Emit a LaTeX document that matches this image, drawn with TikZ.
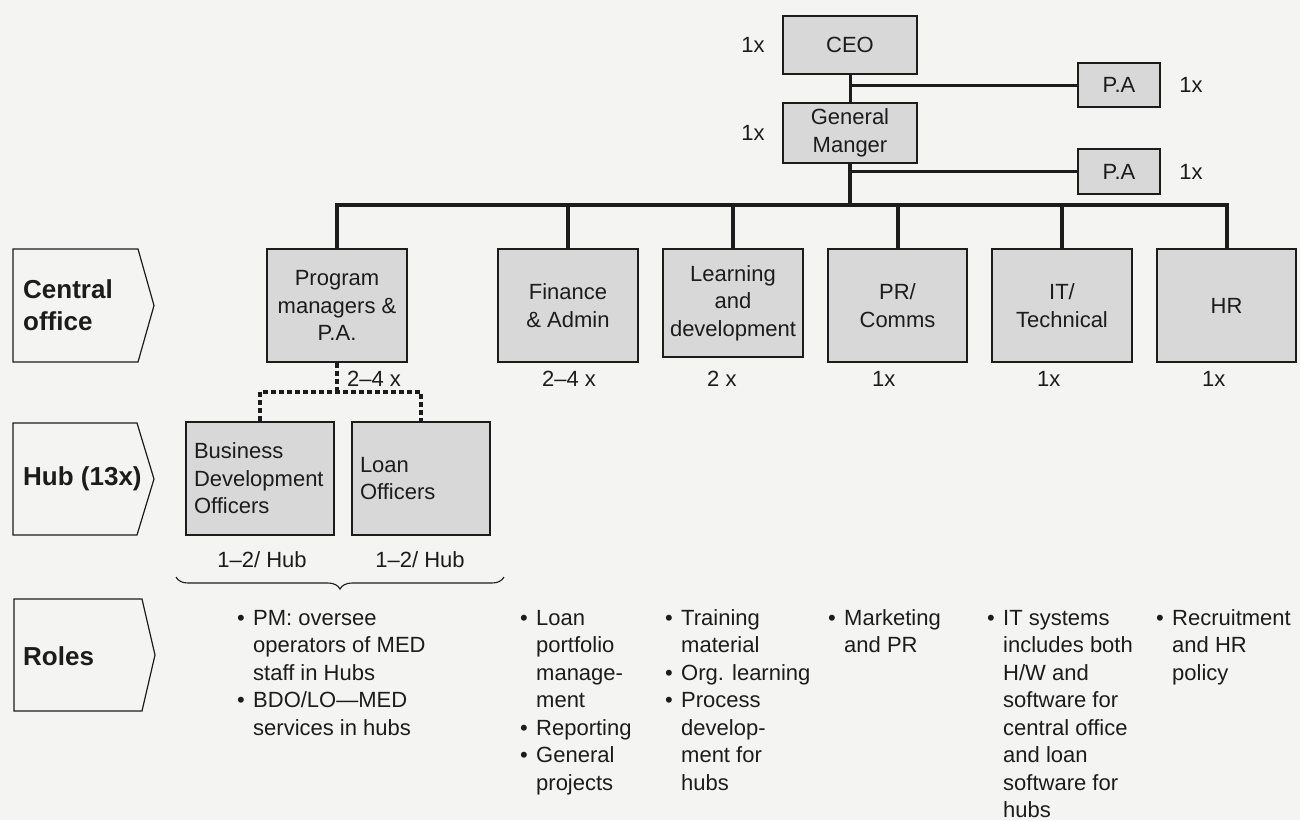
\documentclass[tikz,border=0pt]{standalone}
\usepackage{fontspec}
\setmainfont{Liberation Sans}
\usetikzlibrary{decorations.pathreplacing}

\definecolor{paper}{HTML}{F4F4F2}
\definecolor{boxfill}{HTML}{D8D8D8}
\definecolor{ink}{HTML}{1C1C1C}

\tikzset{
  base font/.style={font=\fontsize{22}{27.5}\selectfont, text=ink},
  orgbox/.style={base font, draw=ink, line width=1.3pt, fill=boxfill,
    inner sep=4pt, align=center},
  hubbox/.style={base font, draw=ink, line width=1.3pt, fill=boxfill,
    inner xsep=8pt, inner ysep=4pt, align=left, minimum height=113pt},
  tag/.style={draw=ink, line width=1.2pt},
  tagtext/.style={font=\fontsize{26}{32}\selectfont\bfseries, text=ink,
    inner sep=0pt, anchor=west, align=left},
  count/.style={base font, inner sep=0pt},
  link/.style={draw=ink, line width=4pt},
  palink/.style={draw=ink, line width=3pt},
  hublink/.style={draw=ink, line width=4pt, dash pattern=on 5pt off 3pt},
  curly/.style={draw=ink, line width=1.1pt,
    decorate, decoration={brace, amplitude=12pt, mirror}},
  rolecol/.style={base font, inner sep=0pt, anchor=base west}
}

% bulleted list of roles, one column
\newcommand\rolelist[1]{\begin{tabular}[t]{@{}p{16pt}@{}l@{}}#1\end{tabular}}

\begin{document}
\begin{tikzpicture}[x=1pt,y=-1pt]
  \fill[paper] (0,0) rectangle (1300,820);
  \useasboundingbox (0,0) rectangle (1300,820);

  % ---- level tags on the left ----
  \draw[tag] (13,249) -- (138,249) -- (154,305.5) -- (138,362) -- (13,362) -- cycle;
  \draw[tag] (13,423) -- (137,423) -- (154,479) -- (137,535) -- (13,535) -- cycle;
  \draw[tag] (14,599) -- (142,599) -- (155,655) -- (142,711) -- (14,711) -- cycle;
  \node[tagtext] (tagco)   at (23,305.5) {Central\\office};
  \node[tagtext] (taghub)  at (23,479)   {Hub (13x)};
  \node[tagtext] (tagrole) at (23,656)   {Roles};

  % ---- top management ----
  \node[orgbox, minimum width=134pt, minimum height=58pt] (ceo) at (850,45) {CEO};
  \node[orgbox, minimum width=134pt, minimum height=60pt] (gm) at (850,133) {General\\Manger};
  \node[orgbox, minimum width=82pt, minimum height=44pt] (pa1) at (1119,85) {P.A};
  \node[orgbox, minimum width=82pt, minimum height=45pt] (pa2) at (1119,171.5) {P.A};
  \node[count] (ceoN) at (753,45)  {1x};
  \node[count] (gmN)  at (753,133) {1x};
  \node[count] (pa1N) at (1191,85) {1x};
  \node[count] (pa2N) at (1191,172) {1x};

  % ---- central office departments ----
  \node[orgbox, minimum width=140pt, minimum height=113pt] (prog) at (337,305.5) {Program\\managers \&\\P.A.};
  \node[orgbox, minimum width=140pt, minimum height=113pt] (fin)  at (568,305.5) {Finance\\\& Admin};
  \node[orgbox, minimum width=140pt, minimum height=108pt] (lrn)  at (733,303)   {Learning\\and\\development};
  \node[orgbox, minimum width=139pt, minimum height=113pt] (pr)   at (897.5,305.5) {PR/\\Comms};
  \node[orgbox, minimum width=140pt, minimum height=113pt] (it)   at (1062,305.5) {IT/\\Technical};
  \node[orgbox, minimum width=139pt, minimum height=113pt] (hr)   at (1226.5,305.5) {HR};

  \node[count, anchor=west] (progN) at (347,379) {2–4 x};
  \node[count, anchor=west] (finN)  at (542,379) {2–4 x};
  \node[count, anchor=west] (lrnN)  at (707,379) {2 x};
  \node[count, anchor=west] (prN)   at (872,379) {1x};
  \node[count, anchor=west] (itN)   at (1037,379) {1x};
  \node[count, anchor=west] (hrN)   at (1202,379) {1x};

  % ---- hub staff ----
  \node[hubbox, text width=132pt] (bdo)  at (260,478.5) {Business\\Development\\Officers};
  \node[hubbox, text width=122pt] (loan) at (421,478.5) {Loan\\Officers};
  \node[count] (bdoN)  at (262,560) {1–2/ Hub};
  \node[count] (loanN) at (420,560) {1–2/ Hub};

  % ---- reporting lines ----
  \coordinate (bus) at (850,205);
  \coordinate (split) at (337,392);
  \path[palink] (ceo.south) -- (gm.north);
  \path[palink] (ceo.south |- pa1.west) -- (pa1.west);
  \path[palink] (gm.south |- pa2.west) -- (pa2.west);
  \path[link] (gm.south) -- (bus);
  \path[link, line join=miter] (prog.north) |- (hr.north |- bus) -- (hr.north);
  \foreach \d in {fin,lrn,pr,it} \path[link] (\d.north) -- (\d.north |- bus);
  \path[hublink] (prog.south) -- (split);
  \path[hublink] (bdo.north) |- (split) -| (loan.north);

  % ---- roles ----
  \coordinate (braceL) at (176,577);
  \coordinate (braceR) at (504,577);
  \path[curly] (braceL) -- (braceR);

  \node[rolecol] (r1) at (237,625) {\rolelist{%
    \textbullet & PM: oversee\\ & operators of MED\\ & staff in Hubs\\
    \textbullet & BDO/LO—MED\\ & services in hubs}};
  \node[rolecol] (r2) at (520,625) {\rolelist{%
    \textbullet & Loan\\ & portfolio\\ & manage-\\ & ment\\
    \textbullet & Reporting\\
    \textbullet & General\\ & projects}};
  \node[rolecol] (r3) at (665,625) {\rolelist{%
    \textbullet & Training\\ & material\\
    \textbullet & Org. learning\\
    \textbullet & Process\\ & develop-\\ & ment for\\ & hubs}};
  \node[rolecol] (r4) at (828,625) {\rolelist{%
    \textbullet & Marketing\\ & and PR}};
  \node[rolecol] (r5) at (987,625) {\rolelist{%
    \textbullet & IT systems\\ & includes both\\ & H/W and\\ & software for\\
    & central office\\ & and loan\\ & software for\\ & hubs}};
  \node[rolecol] (r6) at (1156,625) {\rolelist{%
    \textbullet & Recruitment\\ & and HR\\ & policy}};
\end{tikzpicture}
\end{document}
